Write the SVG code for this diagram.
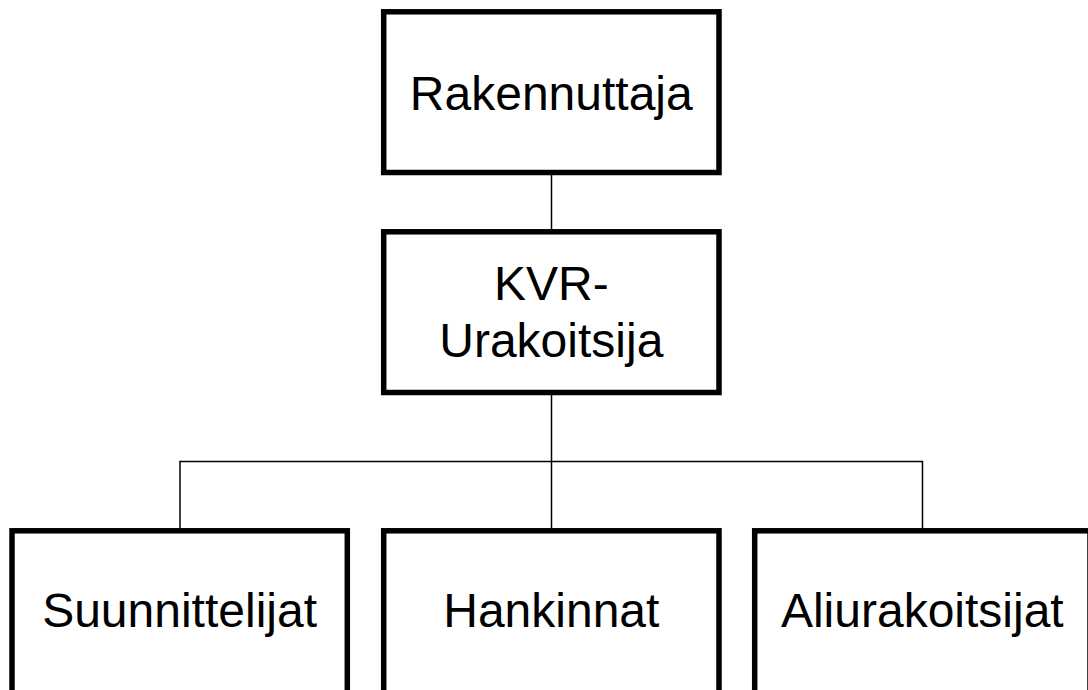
<svg xmlns="http://www.w3.org/2000/svg" width="1088" height="690" viewBox="0 0 1088 690">
<style>
.box{fill:#fff;stroke:#000;stroke-width:5.5}
.lbl{font-family:"Liberation Sans",Arial,sans-serif;font-size:48px;fill:#000;text-anchor:middle}
.conn{stroke:#000;stroke-width:1.5;fill:none}
</style>
<rect width="1088" height="690" fill="#fff"/>
<g id="connectors">
<line class="conn" x1="551.5" y1="172" x2="551.5" y2="232"/>
<line class="conn" x1="551.5" y1="392" x2="551.5" y2="531"/>
<polyline class="conn" points="180,531 180,461.5 922.5,461.5 922.5,531"/>
</g>
<g id="rakennuttaja">
<rect class="box" x="383.7" y="11.8" width="335.3" height="160.7"/>
<text class="lbl" x="551.3" y="110">Rakennuttaja</text>
</g>
<g id="kvr-urakoitsija">
<rect class="box" x="383.7" y="231.8" width="335.3" height="160.7"/>
<text class="lbl" x="551.3" y="300">KVR-</text>
<text class="lbl" x="551.3" y="356.5">Urakoitsija</text>
</g>
<g id="suunnittelijat">
<rect class="box" x="12" y="530.8" width="335.3" height="170"/>
<text class="lbl" x="179.6" y="626.5">Suunnittelijat</text>
</g>
<g id="hankinnat">
<rect class="box" x="383.7" y="530.8" width="335.3" height="170"/>
<text class="lbl" x="551.3" y="626.5">Hankinnat</text>
</g>
<g id="aliurakoitsijat">
<rect class="box" x="754.7" y="530.8" width="335.3" height="170"/>
<text class="lbl" x="922.3" y="626.5">Aliurakoitsijat</text>
</g>
</svg>
